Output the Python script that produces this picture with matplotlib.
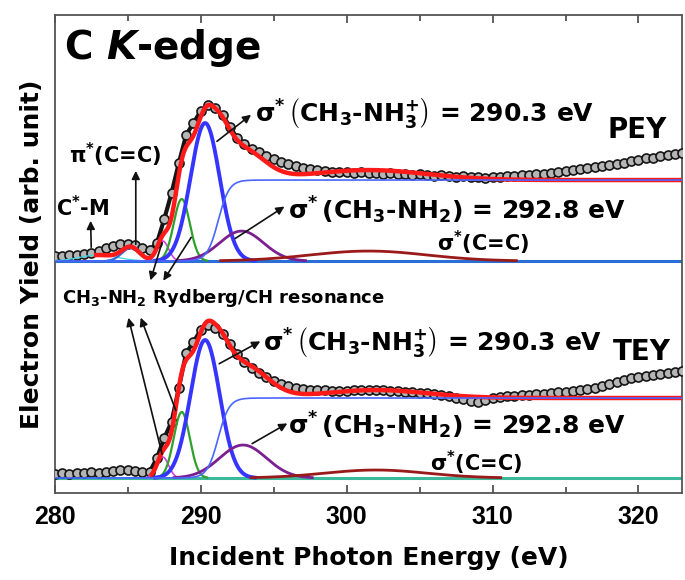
import matplotlib
matplotlib.use('Agg')
import matplotlib.pyplot as plt
import numpy as np

plt.rcParams['font.family'] = ['DejaVu Sans']
plt.rcParams['font.weight'] = 'bold'
plt.rcParams['axes.labelweight'] = 'bold'
plt.rcParams['mathtext.fontset'] = 'custom'
plt.rcParams['mathtext.rm'] = 'DejaVu Sans:bold'
plt.rcParams['mathtext.bf'] = 'DejaVu Sans:bold'
plt.rcParams['mathtext.it'] = 'DejaVu Sans:italic:bold'
plt.rcParams['mathtext.default'] = 'rm'

# -----------------------------------------------------------------------------
# Data (heights above each spectrum's own baseline, arb. unit)
# -----------------------------------------------------------------------------
energy = np.arange(280.0, 323.01, 0.5)

pey_yield = [
    0.05, 0.05, 0.06, 0.06, 0.07, 0.08, 0.10, 0.13, 0.15, 0.17,
    0.17, 0.16, 0.13, 0.11, 0.18, 0.42, 0.68, 0.98, 1.26, 1.38,
    1.50, 1.56, 1.53, 1.46, 1.34, 1.23, 1.17, 1.12, 1.09, 1.05,
    1.02, 0.99, 0.97, 0.95, 0.93, 0.92, 0.91, 0.90, 0.89, 0.89,
    0.89, 0.88, 0.89, 0.88, 0.88, 0.87, 0.88, 0.87, 0.87, 0.86,
    0.87, 0.86, 0.85, 0.86, 0.85, 0.84, 0.85, 0.84, 0.84, 0.83,
    0.84, 0.84, 0.85, 0.85, 0.86, 0.86, 0.87, 0.87, 0.88, 0.89,
    0.90, 0.91, 0.92, 0.93, 0.94, 0.95, 0.96, 0.97, 0.98, 1.00,
    1.01, 1.03, 1.03, 1.05, 1.06, 1.07, 1.08,
]
tey_yield = [
    0.04, 0.05, 0.04, 0.05, 0.05, 0.06, 0.05, 0.06, 0.07, 0.08,
    0.08, 0.07, 0.06, 0.06, 0.20, 0.40, 0.56, 0.90, 1.25, 1.36,
    1.48, 1.53, 1.50, 1.44, 1.34, 1.24, 1.16, 1.10, 1.05, 1.01,
    0.97, 0.94, 0.92, 0.90, 0.89, 0.88, 0.88, 0.88, 0.87, 0.87,
    0.87, 0.88, 0.88, 0.88, 0.88, 0.88, 0.87, 0.87, 0.86, 0.86,
    0.85, 0.85, 0.84, 0.83, 0.82, 0.80, 0.79, 0.77, 0.76, 0.78,
    0.80, 0.81, 0.82, 0.82, 0.83, 0.83, 0.84, 0.84, 0.85, 0.86,
    0.86, 0.87, 0.88, 0.89, 0.90, 0.92, 0.94, 0.96, 0.98, 1.00,
    1.01, 1.02, 1.03, 1.04, 1.05, 1.06, 1.07,
]

# vertical offsets of the two spectra
pey_base = 2.32
tey_base = 0.15

# fitted components: C*-M, pi*(C=C), Rydberg, CH, CH3-NH3+, CH3-NH2, sigma*(C=C)
peak_colors = ['#40d8e8', '#2f6fd8', '#d040e0', '#2ea02e', '#3535ff', '#7a2090', '#9a1a1a']
peak_widths = [0.9, 1.6, 1.2, 1.6, 2.8, 2.0, 2.0]
pey_centers = [283.0, 285.2, 287.4, 288.7, 290.3, 292.8, 301.5]
pey_heights = [0.06, 0.13, 0.20, 0.62, 1.38, 0.30, 0.10]
pey_sigmas = [1.3, 0.6, 0.4, 0.55, 1.0, 1.5, 4.0]
tey_centers = [283.0, 285.2, 287.4, 288.7, 290.3, 292.9, 302.0]
tey_heights = [0.0, 0.0, 0.21, 0.66, 1.38, 0.33, 0.08]
tey_sigmas = [1.3, 0.6, 0.4, 0.55, 1.0, 1.6, 3.5]

# ionisation step
step_center = 291.2
pey_step = 0.81
tey_step = 0.80


def gauss(e, c, h, s):
    return h * np.exp(-(e - c) ** 2 / (2 * s ** 2))


def step(e, h):
    return 0.5 * h * (1 + np.tanh((e - step_center) / 0.75))


fig = plt.figure(figsize=(6.85, 5.8), dpi=100)
ax = fig.add_axes([0.080, 0.150, 0.916, 0.824])

e_fine = np.linspace(280, 323, 1200)

for base, yld, cen, hei, sig, st, fit_start, bl_col in [
    (pey_base, pey_yield, pey_centers, pey_heights, pey_sigmas, pey_step, 282.8, '#2a6fd6'),
    (tey_base, tey_yield, tey_centers, tey_heights, tey_sigmas, tey_step, 286.6, '#3cb89a'),
]:
    # baseline
    ax.axhline(base, color=bl_col, lw=2.2, zorder=2)
    # measured points
    ax.plot(energy, base + np.array(yld), color='#151515', lw=3, zorder=3)
    ax.plot(energy, base + np.array(yld), 'o', ms=6.5, mfc='#b5b5b5', mec='#151515',
            mew=1.2, zorder=3)
    # components
    total = step(e_fine, st)
    for c, h, s, col, lw in zip(cen, hei, sig, peak_colors, peak_widths):
        if h <= 0:
            continue
        g = gauss(e_fine, c, h, s)
        total = total + g
        gm = np.where(g > 0.004, base + g, np.nan)
        ax.plot(e_fine, gm, color=col, lw=lw, zorder=4)
    # fit
    fit = np.where(e_fine >= fit_start, base + total, np.nan)
    ax.plot(e_fine, fit, color='#ff1a1a', lw=3.2, zorder=5)
    # step
    ax.plot(e_fine, base + step(e_fine, st), color='#4a66ff', lw=1.2, zorder=6)

# -----------------------------------------------------------------------------
# Labels and arrows
# -----------------------------------------------------------------------------
arrow = dict(arrowstyle='-|>', color='#111111', lw=1.2, mutation_scale=12)


def arr(tail, head):
    ax.annotate('', xy=head, xytext=tail, arrowprops=arrow, zorder=7)


s_nh3 = r'$\sigma^{*}\,\left(\mathrm{CH_3\text{-}NH_3^{+}}\right)$ = 290.3 eV'
s_nh2 = r'$\sigma^{*}\,\left(\mathrm{CH_3\text{-}NH_2}\right)$ = 292.8 eV'
s_cc = r'$\sigma^{*}$(C=C)'

ax.text(280.6, 4.45, r'C $\mathit{K}$-edge', fontsize=28, va='center', ha='left')

# PEY
ax.text(293.7, 3.80, s_nh3, fontsize=18, va='center')
ax.text(319.9, 3.63, 'PEY', fontsize=20, va='center', ha='center')
ax.text(296.0, 2.83, s_nh2, fontsize=18, va='center')
ax.text(306.2, 2.50, s_cc, fontsize=15, va='center')
ax.text(281.0, 3.38, r'$\pi^{*}$(C=C)', fontsize=15, va='center')
ax.text(280.1, 2.85, r'C$^{*}$-M', fontsize=15, va='center')
arr((290.96, 3.50), (293.6, 3.80))
arr((292.2, 2.53), (295.9, 2.88))
arr((285.55, 2.46), (285.55, 3.25))
arr((282.5, 2.43), (282.45, 2.75))
arr((287.4, 2.53), (286.5, 2.10))
arr((289.45, 2.58), (287.33, 2.10))

ax.text(280.5, 1.95, r'CH$_3$-NH$_2$ Rydberg/CH resonance', fontsize=13, va='center')

# TEY
ax.text(294.3, 1.51, s_nh3, fontsize=18, va='center')
ax.text(320.2, 1.41, 'TEY', fontsize=20, va='center', ha='center')
ax.text(296.0, 0.68, s_nh2, fontsize=18, va='center')
ax.text(305.7, 0.30, s_cc, fontsize=15, va='center')
arr((287.4, 0.36), (285.0, 1.78))
arr((288.36, 0.80), (285.82, 1.78))
arr((291.1, 1.28), (294.25, 1.53))
arr((293.36, 0.48), (296.1, 0.71))

# -----------------------------------------------------------------------------
# Axes
# -----------------------------------------------------------------------------
ax.set_xlim(280, 323)
ax.set_ylim(0, 4.78)
ax.set_yticks([])
ax.set_xticks([280, 290, 300, 310, 320])
ax.set_xticks(np.arange(285, 323, 10), minor=True)
ax.tick_params(axis='x', which='both', direction='in', top=True,
               color='#444444', pad=9)
ax.tick_params(axis='x', which='major', length=6, width=1.2)
ax.tick_params(axis='x', which='minor', length=4, width=1.2)
for lab in ax.get_xticklabels():
    lab.set_fontfamily('Liberation Sans')
    lab.set_fontsize(18)
for sp in ax.spines.values():
    sp.set_color('#555555')
    sp.set_linewidth(1.3)
ax.set_xlabel('Incident Photon Energy (eV)', fontsize=18, labelpad=12)
ax.set_ylabel('Electron Yield (arb. unit)', fontsize=18, labelpad=8)

fig.savefig('out.png', dpi=100)
